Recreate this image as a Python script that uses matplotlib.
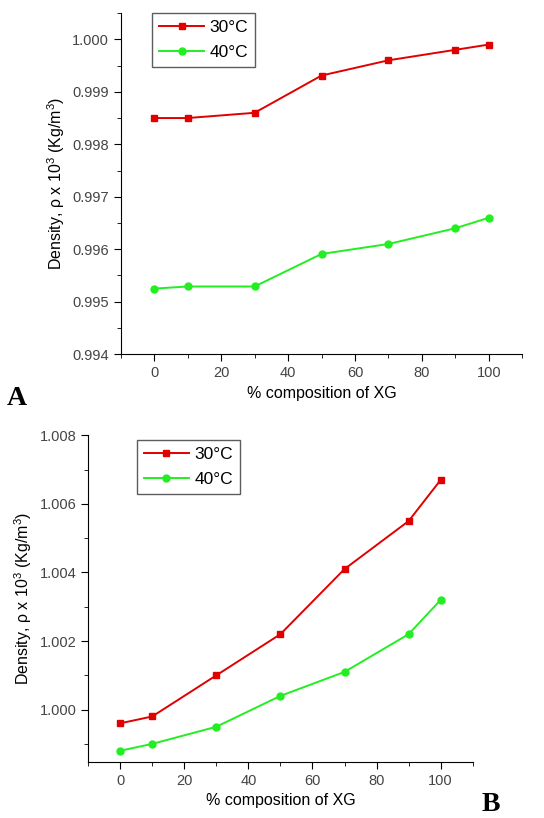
import matplotlib
matplotlib.use('Agg')
import matplotlib.pyplot as plt
from matplotlib.ticker import MultipleLocator, FormatStrFormatter

xg = [0, 10, 30, 50, 70, 90, 100]
# panel A
a_30 = [0.9985, 0.9985, 0.9986, 0.99931, 0.9996, 0.9998, 0.9999]
a_40 = [0.99525, 0.99529, 0.99529, 0.99591, 0.9961, 0.9964, 0.9966]
# panel B
b_30 = [0.9996, 0.9998, 1.0010, 1.0022, 1.0041, 1.0055, 1.0067]
b_40 = [0.9988, 0.9990, 0.9995, 1.0004, 1.0011, 1.0022, 1.0032]
labels = ['30°C', '40°C']

plt.rcParams['font.family'] = ['Liberation Sans', 'DejaVu Sans']
plt.rcParams['mathtext.default'] = 'regular'
RED, GREEN = '#e00000', '#22ee22'

fig = plt.figure(figsize=(5.44, 8.18), dpi=100)
axA = fig.add_axes([0.222, 0.567, 0.738, 0.417])
axB = fig.add_axes([0.162, 0.0688, 0.707, 0.399])

def style(ax, ylim, major, fmt, leg_anchor):
    ax.set_xlim(-10, 110)
    ax.set_ylim(*ylim)
    ax.spines['top'].set_visible(False)
    ax.spines['right'].set_visible(False)
    ax.xaxis.set_major_locator(MultipleLocator(20))
    ax.xaxis.set_minor_locator(MultipleLocator(10))
    ax.yaxis.set_major_locator(MultipleLocator(major))
    ax.yaxis.set_minor_locator(MultipleLocator(major / 2))
    ax.yaxis.set_major_formatter(FormatStrFormatter(fmt))
    ax.tick_params(which='major', length=5, labelsize=10.5, labelcolor='#444444')
    ax.tick_params(which='minor', length=3)
    ax.set_xlabel('% composition of XG', fontsize=11.5)
    ax.set_ylabel('Density, ρ x 10$^3$ (Kg/m$^3$)', fontsize=11.5)
    leg = ax.legend(loc='upper left', bbox_to_anchor=leg_anchor, fontsize=12.5,
                    fancybox=False, edgecolor='#333333', handlelength=2.6,
                    borderpad=0.4, labelspacing=0.55, handletextpad=0.3,
                    borderaxespad=0)
    leg.get_frame().set_linewidth(1.0)

axA.plot(xg, a_30, color=RED, marker='s', ms=5, lw=1.4, label=labels[0])
axA.plot(xg, a_40, color=GREEN, marker='o', ms=5, lw=1.4, label=labels[1])
style(axA, (0.994, 1.0005), 0.001, '%.3f', (0.078, 1.0))

axB.plot(xg, b_30, color=RED, marker='s', ms=5, lw=1.4, label=labels[0])
axB.plot(xg, b_40, color=GREEN, marker='o', ms=5, lw=1.4, label=labels[1])
style(axB, (0.99848, 1.008), 0.002, '%.3f', (0.127, 0.985))

fig.text(0.012, 0.505, 'A', fontsize=20, fontweight='bold', family='Liberation Serif')
fig.text(0.885, 0.008, 'B', fontsize=20, fontweight='bold', family='Liberation Serif')

fig.savefig('out.png', dpi=100)
